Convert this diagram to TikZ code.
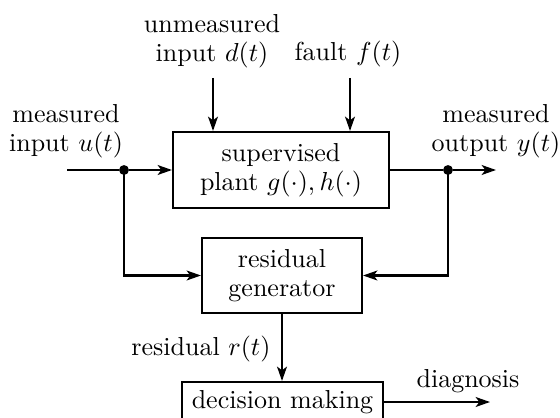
\documentclass[tikz,border=0pt]{standalone}
\usetikzlibrary{arrows.meta}
% one drawing unit = one pixel of the 560 x 418 canvas
\def\px{0.3846pt}
\begin{document}
\begin{tikzpicture}[x=0.3846pt, y=-0.3846pt,
  font=\fontsize{10}{11.2}\selectfont,
  block/.style={draw, line width=0.8pt, align=center, inner sep=0pt},
  wire/.style={line width=0.8pt},
  sig/.style={line width=0.8pt, line join=miter, -{Stealth[length=5.5pt, width=3.8pt, inset=1.4pt]}},
  junction/.style={circle, fill, inner sep=0pt, minimum size=3.8pt},
  lbl/.style={align=center, inner sep=0pt}]
\useasboundingbox (0,0) rectangle (560,418);

% blocks
\node[block, minimum width={216*\px}, minimum height={76*\px}] (plant) at (281,170)
  {supervised\\plant $g(\cdot),h(\cdot)$};
\node[block, minimum width={160*\px}, minimum height={75*\px}] (resid) at (282,275.5)
  {residual\\generator};
\node[block, minimum width={201*\px}, minimum height={40*\px}] (dec) at (282.5,402)
  {decision making};

% signal end points and branch points
\coordinate (uin) at (67,170);
\node[junction] (ud) at (124,170) {};
\node[junction] (yd) at (448,170) {};
\coordinate (yout) at (496,170);
\coordinate (dtop) at (213,78);
\coordinate (ftop) at (350,78);
\coordinate (diag) at (490,402);

% connections
\draw[wire] (uin) -- (ud);
\draw[sig] (ud) -- (plant.west);
\draw[wire] (plant.east) -- (yd);
\draw[sig] (yd) -- (yout);
\draw[sig] (ud.center) |- (resid.west);
\draw[sig] (yd.center) |- (resid.east);
\draw[sig] (dtop) -- (dtop |- plant.north);
\draw[sig] (ftop) -- (ftop |- plant.north);
\draw[sig] (resid.south) -- (resid.south |- dec.north);
\draw[sig] (dec.east) -- (diag);

% labels
\node[lbl, anchor=south] (ulbl) at (66,158.5) {measured\\input $u(t)$};
\node[lbl, anchor=south] (ylbl) at (496,158.5) {measured\\output $y(t)$};
\node[lbl, anchor=south] (dlbl) at (212,68.5) {unmeasured\\input $d(t)$};
\node[lbl, anchor=base] (flbl) at (348,61) {fault $f(t)$};
\node[lbl, anchor=base east] (rlbl) at (271,355) {residual $r(t)$};
\node[lbl, anchor=base] (diaglbl) at (468,387) {diagnosis};
\end{tikzpicture}
\end{document}
